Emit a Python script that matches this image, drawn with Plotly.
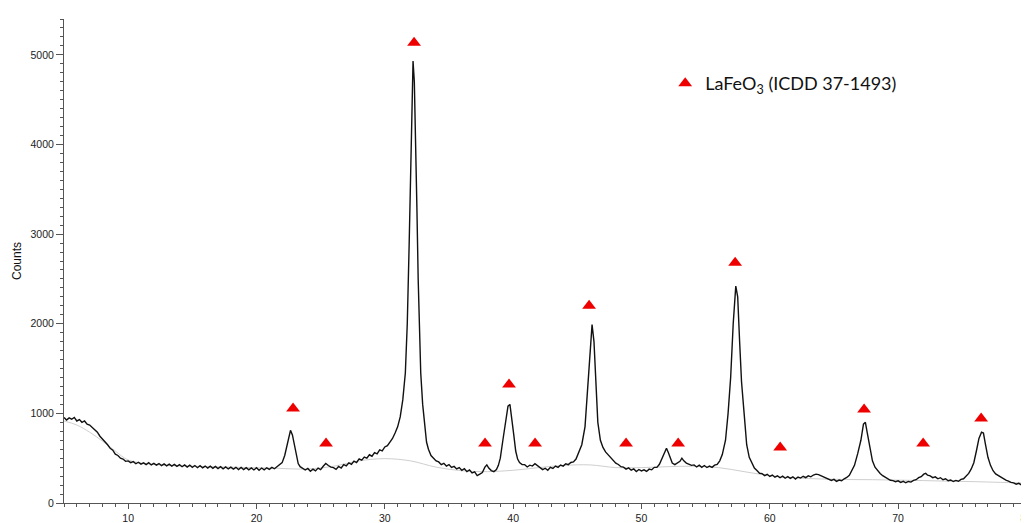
import plotly.graph_objects as go

two_theta = [
    5.0, 5.2, 5.4, 5.6, 5.8, 6.0, 6.2, 6.4, 6.6, 6.8, 7.0, 7.2, 7.4, 7.6, 7.8, 8.0, 8.2, 8.4, 8.6, 8.8, 9.0, 9.2, 9.4, 9.6, 9.8, 10.0,
    10.2, 10.4, 10.6, 10.8, 11.0, 11.2, 11.4, 11.6, 11.8, 12.0,
    12.2, 12.4, 12.6, 12.8, 13.0, 13.2, 13.4, 13.6, 13.8, 14.0,
    14.2, 14.4, 14.6, 14.8, 15.0, 15.2, 15.4, 15.6, 15.8, 16.0,
    16.2, 16.4, 16.6, 16.8, 17.0, 17.2, 17.4, 17.6, 17.8, 18.0,
    18.2, 18.4, 18.6, 18.8, 19.0, 19.2, 19.4, 19.6, 19.8, 20.0,
    20.2, 20.4, 20.6, 20.8, 21.0, 21.2, 21.4, 21.6,
    21.8, 22.0, 22.2, 22.35, 22.5, 22.65, 22.8, 22.95, 23.1, 23.25, 23.4,
    23.6, 23.8, 24.0, 24.2, 24.4, 24.6, 24.8, 25.0, 25.2, 25.4, 25.6, 25.8, 26.0, 26.2, 26.4, 26.6, 26.8, 27.0,
    27.2, 27.4, 27.6, 27.8, 28.0, 28.2, 28.4, 28.6, 28.8, 29.0, 29.2, 29.4, 29.6, 29.8, 30.0, 30.2, 30.4, 30.6, 30.8,
    31.0, 31.2, 31.4, 31.6, 31.75, 31.9, 32.0, 32.1, 32.2, 32.3, 32.4, 32.5, 32.6, 32.7, 32.8, 32.95, 33.1, 33.25,
    33.4, 33.6, 33.8, 34.0, 34.2, 34.4, 34.6, 34.8, 35.0, 35.2, 35.4, 35.6, 35.8, 36.0, 36.2, 36.4, 36.6, 36.8,
    37.0, 37.2, 37.4, 37.6, 37.8, 37.95, 38.1, 38.3, 38.5, 38.7, 38.85,
    39.0, 39.2, 39.4, 39.6, 39.75, 39.9, 40.05, 40.2, 40.35,
    40.5, 40.7, 40.9, 41.1, 41.3, 41.5, 41.7, 41.9, 42.1, 42.3, 42.5, 42.7, 42.9, 43.1, 43.3, 43.5, 43.7, 43.9,
    44.1, 44.3, 44.5, 44.7, 44.9,
    45.1, 45.35, 45.6, 45.8, 46.0, 46.15, 46.3, 46.45, 46.6, 46.8, 47.0,
    47.2, 47.4, 47.6, 47.8, 48.0, 48.2, 48.4, 48.6, 48.8, 49.0, 49.2, 49.4, 49.6, 49.8, 50.0, 50.2, 50.4, 50.6,
    50.8, 51.0, 51.2, 51.4, 51.6, 51.8, 51.95, 52.1, 52.25, 52.4, 52.6, 52.8, 53.0, 53.15, 53.3, 53.5, 53.7, 53.9,
    54.1, 54.3, 54.5, 54.7, 54.9, 55.1, 55.3, 55.5, 55.7, 55.9, 56.1,
    56.3, 56.55, 56.75, 56.95, 57.15, 57.35, 57.5, 57.65, 57.8, 58.0, 58.2, 58.4,
    58.6, 58.8, 59.0, 59.2, 59.4, 59.6, 59.8, 60.0, 60.2, 60.4, 60.6, 60.8, 61.0, 61.2, 61.4, 61.6, 61.8, 62.0,
    62.2, 62.4, 62.6, 62.8, 63.0, 63.2, 63.4, 63.6, 63.8, 64.0, 64.2, 64.4, 64.6, 64.8, 65.0, 65.2, 65.4, 65.6,
    65.8, 66.0, 66.2,
    66.4, 66.6, 66.85, 67.1, 67.3, 67.45, 67.6, 67.8, 68.0, 68.2,
    68.4, 68.6, 68.8, 69.0, 69.2, 69.4, 69.6, 69.8, 70.0, 70.2, 70.4, 70.6, 70.8, 71.0, 71.2, 71.4, 71.6, 71.8,
    72.0, 72.15, 72.3, 72.5, 72.7, 72.9, 73.1, 73.3, 73.5, 73.7, 73.9, 74.1, 74.3, 74.5, 74.7, 74.9, 75.1, 75.3,
    75.5, 75.7, 75.9, 76.1, 76.3, 76.5, 76.65, 76.8, 77.0, 77.2,
    77.4, 77.6, 77.8, 78.0, 78.2, 78.4, 78.6, 78.8, 79.0, 79.2, 79.4, 79.6, 79.8, 80.0, 80.2,
]
counts = [
    955, 925, 950, 935, 955, 915, 930, 900, 915, 880, 870, 845, 820, 790, 745, 715, 680, 650, 610, 590, 545, 530, 500, 490, 465, 470,
    450, 462, 438, 455, 434, 448, 428, 450, 425, 442,
    422, 440, 417, 436, 414, 434, 411, 430, 408, 428,
    405, 425, 400, 423, 398, 418, 394, 416, 392, 412,
    390, 410, 386, 408, 384, 406, 382, 402, 380, 400,
    378, 398, 374, 396, 372, 394, 370, 392, 369, 394,
    366, 390, 370, 393, 376, 398, 382, 405,
    420, 450, 530, 620, 730, 810, 760, 640, 520, 440, 405,
    390, 368, 385, 355, 378, 358, 390, 372, 410, 440, 418, 400, 395, 375, 408, 390, 428, 415,
    448, 432, 468, 452, 492, 478, 512, 500, 538, 522, 562, 548, 592, 582, 625, 640, 680, 720, 780,
    850, 960, 1150, 1450, 2000, 2900, 3700, 4500, 4930, 4700, 4100, 3300, 2500, 1900, 1450, 1100, 850, 680,
    600, 530, 500, 470, 458, 428, 443, 412, 428, 396, 408, 380, 395, 365, 383, 350, 368, 336,
    348, 305, 322, 340, 400, 425, 390, 362, 350, 372, 420,
    500, 700, 900, 1080, 1100, 950, 760, 580, 490,
    452, 428, 428, 402, 422, 412, 438, 418, 392, 372, 388, 366, 398, 386, 412, 398, 423, 412,
    438, 428, 452, 458, 490,
    560, 650, 850, 1250, 1750, 1990, 1800, 1300, 900, 700, 620,
    570, 540, 505, 480, 445, 430, 405, 400, 378, 392, 366, 380, 352, 374, 358, 370, 352, 378,
    370, 398, 398, 432, 500, 580, 610, 560, 490, 445, 428, 448, 465, 500, 470, 445, 428, 420,
    425, 402, 422, 398, 418, 396, 412, 398, 422, 430, 470,
    540, 700, 1000, 1400, 2000, 2420, 2300, 1800, 1350, 1000, 650, 510,
    440, 390, 362, 332, 328, 306, 320, 296, 312, 288, 302, 282, 300, 276, 294, 274, 292, 268,
    290, 278, 298, 283, 303, 292, 312, 322, 316, 302, 288, 276, 266, 252, 264, 242, 256, 248,
    270, 285, 310,
    360, 420, 550, 700, 880, 900, 780, 600, 470, 400,
    360, 330, 305, 286, 270, 254, 250, 238, 247, 230, 242, 226, 240, 233, 252, 260, 282, 294,
    322, 330, 310, 302, 283, 292, 270, 282, 260, 270, 248, 257, 240, 252, 243, 264, 270, 300,
    330, 380, 450, 580, 720, 790, 780, 660, 510, 420,
    360, 325, 305, 285, 270, 255, 245, 230, 225, 210, 220, 203, 212, 198, 205,
]

# ---- fitted background ----
bg_theta = [5, 6, 7, 8, 9, 10, 12, 15, 18, 21, 24, 26, 28, 30, 32, 34, 36, 38, 40, 42, 44, 46, 48, 50,
            52, 54, 56, 58, 60, 62, 64, 66, 68, 70, 72, 74, 76, 78, 80.2]
bg_counts = [915, 870, 790, 690, 580, 480, 430, 410, 400, 390, 380, 410, 470, 495, 470, 400, 360, 350,
             365, 395, 420, 425, 395, 395, 405, 410, 395, 350, 305, 280, 268, 262, 260, 255, 250, 243,
             238, 230, 222]

# ---- LaFeO3 reference reflections (marker positions) ----
ref_theta = [22.85, 25.42, 32.28, 37.81, 39.68, 41.71, 45.92, 48.80, 52.86, 57.30, 60.81, 67.35, 71.95, 76.47]
ref_level = [1053, 663, 5134, 663, 1321, 663, 2201, 663, 663, 2681, 619, 1042, 663, 942]

y_ticks = [0, 1000, 2000, 3000, 4000, 5000]
x_ticks = [10, 20, 30, 40, 50, 60, 70, 80]

fig = go.Figure()
fig.add_trace(go.Scatter(x=bg_theta, y=bg_counts, mode="lines", line=dict(color="#cfcfcf", width=1, shape="spline"),
                         showlegend=False, hoverinfo="skip"))
fig.add_trace(go.Scatter(x=two_theta, y=counts, mode="lines", line=dict(color="#111111", width=1.4),
                         showlegend=False))
fig.add_trace(go.Scatter(x=ref_theta, y=ref_level, mode="markers",
                         marker=dict(symbol="triangle-up", size=12, color="#ee0000"),
                         name="LaFeO<sub>3</sub> (ICDD 37-1493)", showlegend=True))

axis_font = dict(family="Liberation Sans, Arial, sans-serif", size=10.5, color="#222222")
# the page body adds an 8px offset, so the figure is 8px smaller than the window
fig.update_layout(
    width=1021, height=515,
    margin=dict(l=56, r=0, t=11, b=19.5, autoexpand=False),
    paper_bgcolor="white", plot_bgcolor="white",
    showlegend=True,
    legend=dict(x=0.623, y=0.905, xanchor="left", yanchor="top", bgcolor="rgba(0,0,0,0)",
                font=dict(family="Lato, Open Sans, sans-serif", size=18, color="#111111")),
    xaxis=dict(range=[5, 80.2], tickvals=x_ticks, showgrid=False, zeroline=False, automargin=False,
               showline=True, linecolor="#555555", linewidth=1, ticklabeloverflow="allow",
               ticks="outside", ticklen=5, tickcolor="#555555", tickfont=axis_font,
               minor=dict(dtick=1, tick0=5, ticks="outside", ticklen=3, tickcolor="#555555")),
    yaxis=dict(range=[0, 5400], tickvals=y_ticks, showgrid=False, zeroline=False, automargin=False,
               showline=True, linecolor="#555555", linewidth=1,
               ticks="outside", ticklen=7, tickcolor="#555555", tickfont=axis_font,
               minor=dict(dtick=100, tick0=0, ticks="outside", ticklen=3, tickcolor="#555555"),
               title=dict(text="Counts", font=dict(family="Liberation Sans, Arial, sans-serif", size=12, color="#111111"),
                          standoff=6)),
)

fig.write_html("out.html", config={"displayModeBar": False})
